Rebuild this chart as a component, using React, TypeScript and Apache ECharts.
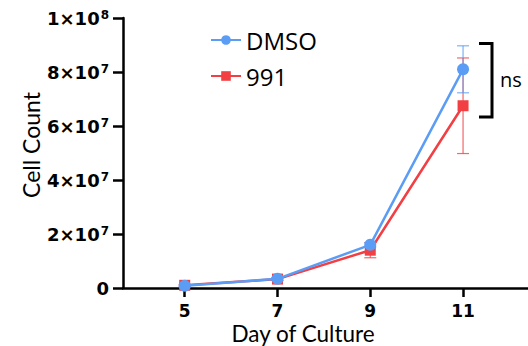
import React, { useEffect, useRef } from "react";
import * as echarts from "echarts";

const days = [5, 7, 9, 11];
const dmsoMean = [0.8e6, 3.4e6, 16.0e6, 81.0e6];
const dmsoErr = [0.3e6, 0.5e6, 0.8e6, 8.7e6];
const drugMean = [1.0e6, 3.3e6, 14.0e6, 67.5e6];
const drugErr = [0.3e6, 0.6e6, 2.8e6, 17.7e6];
const yTicks = [0, 2e7, 4e7, 6e7, 8e7, 1e8];
const yTickLabels = ["0", "2×10|7", "4×10|7", "6×10|7", "8×10|7", "1×10|8"];

const BLUE = "#5B9DF5";
const RED = "#F23F43";
const TICK_FONT = "DejaVu Sans";
const TITLE_FONT = "Lato";

function errSeries(name: string, means: number[], errs: number[], color: string) {
  return {
    type: "custom",
    name: name + "-err",
    z: 1,
    silent: true,
    renderItem: (params: any, api: any) => {
      const x = api.value(0);
      const lo = api.coord([x, api.value(1)]);
      const hi = api.coord([x, api.value(2)]);
      const cap = 6;
      const style = { stroke: color, lineWidth: 1.2, opacity: 0.8 };
      return {
        type: "group",
        children: [
          { type: "line", shape: { x1: lo[0], y1: lo[1], x2: hi[0], y2: hi[1] }, style },
          { type: "line", shape: { x1: lo[0] - cap, y1: lo[1], x2: lo[0] + cap, y2: lo[1] }, style },
          { type: "line", shape: { x1: hi[0] - cap, y1: hi[1], x2: hi[0] + cap, y2: hi[1] }, style },
        ],
      };
    },
    data: days.map((d, i) => [d, means[i] - errs[i], means[i] + errs[i]]),
  };
}

export default function App() {
  const ref = useRef<HTMLDivElement>(null);
  useEffect(() => {
    if (!ref.current) return;
    const chart = echarts.init(ref.current, undefined, { renderer: "svg" });
    const labelMap: Record<string, string> = {};
    yTicks.forEach((v, i) => (labelMap[String(v)] = yTickLabels[i]));
    chart.setOption({
      animation: false,
      grid: { left: 123, top: 18, right: 0, bottom: 58 },
      legend: {
        left: 205,
        top: 23,
        orient: "vertical",
        itemWidth: 30,
        itemHeight: 12,
        itemGap: 12,
        data: ["DMSO", "991"],
        textStyle: { fontSize: 24, color: "#000", fontFamily: "Open Sans" },
      },
      xAxis: {
        type: "value",
        min: 3.67,
        max: 12.4,
        axisLine: { lineStyle: { color: "#000", width: 2.5 } },
        axisTick: { show: true, length: 9, lineStyle: { color: "#000", width: 2.5 }, customValues: days },
        axisLabel: {
          customValues: days,
          color: "#000",
          fontWeight: "bold",
          fontSize: 17,
          lineHeight: 14,
          fontFamily: TICK_FONT,
          margin: 16,
        },
        splitLine: { show: false },
      },
      yAxis: {
        type: "value",
        min: 0,
        max: 1e8,
        interval: 2e7,
        axisLine: { show: true, lineStyle: { color: "#000", width: 2.5 } },
        axisTick: { show: true, length: 10, lineStyle: { color: "#000", width: 2.5 } },
        axisLabel: {
          color: "#000",
          margin: 14,
          formatter: (v: number) => {
            const s = labelMap[String(v)] ?? "";
            if (s.indexOf("|") < 0) return "{b|" + s + "}";
            const [a, e] = s.split("|");
            return "{b|" + a + "}{s|" + e + "}";
          },
          rich: {
            b: { fontSize: 18, fontWeight: "bold", fontFamily: TICK_FONT, color: "#000", lineHeight: 18 },
            s: { fontSize: 12, fontWeight: "bold", fontFamily: TICK_FONT, color: "#000", lineHeight: 18, verticalAlign: "top", padding: [0, 0, 6, 1] },
          },
        },
        splitLine: { show: false },
      },
      graphic: [
        {
          type: "text",
          x: 31,
          y: 145,
          rotation: Math.PI / 2,
          style: { text: "Cell Count", fontSize: 23, fontFamily: TITLE_FONT, fill: "#000", align: "center", verticalAlign: "middle" },
        },
        {
          type: "text",
          x: 303,
          y: 333,
          style: { text: "Day of Culture", fontSize: 22.5, lineHeight: 20, fontFamily: TITLE_FONT, fill: "#000", align: "center", verticalAlign: "middle" },
        },
        {
          type: "polyline",
          shape: { points: [[479, 43.5], [492, 43.5], [492, 117], [479, 117]] },
          style: { stroke: "#000", lineWidth: 3, fill: "none" },
        },
        {
          type: "text",
          x: 500,
          y: 79,
          style: { text: "ns", fontSize: 20, fontFamily: "Open Sans", fill: "#000", align: "left", verticalAlign: "middle" },
        },
      ],
      series: [
        errSeries("991", drugMean, drugErr, RED),
        errSeries("DMSO", dmsoMean, dmsoErr, BLUE),
        {
          name: "991",
          type: "line",
          z: 2,
          data: days.map((d, i) => [d, drugMean[i]]),
          symbol: "rect",
          symbolSize: 11,
          itemStyle: { color: RED },
          lineStyle: { color: RED, width: 2.5 },
        },
        {
          name: "DMSO",
          type: "line",
          z: 3,
          data: days.map((d, i) => [d, dmsoMean[i]]),
          symbol: "circle",
          symbolSize: 12,
          itemStyle: { color: BLUE },
          lineStyle: { color: BLUE, width: 2.5 },
        },
      ],
    });
    return () => chart.dispose();
  }, []);
  return <div ref={ref} style={{ width: 528, height: 346, position: "absolute", left: 0, top: 0 }} />;
}
